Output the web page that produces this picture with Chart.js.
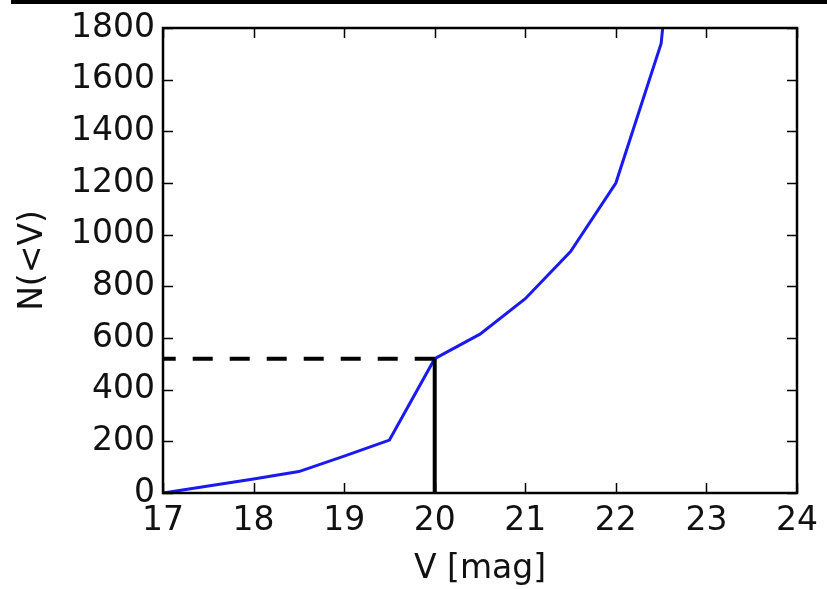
<!DOCTYPE html>
<html>
<head>
<meta charset="utf-8">
<script src="https://cdn.jsdelivr.net/npm/chart.js@4"></script>
<style>
  html, body { margin: 0; padding: 0; background: #fff; }
  #wrap { position: relative; width: 827px; height: 589px; }
  #topbar { position: absolute; left: 11px; top: 0; width: 816px; height: 4px; background: #000; }
  canvas { display: block; }
</style>
</head>
<body>
<div id="wrap">
  <canvas id="c" width="827" height="589"></canvas>
  <div id="topbar"></div>
</div>
<script>
// Data
const magnitudes = [17, 17.5, 18, 18.5, 19, 19.5, 20, 20.5, 21, 21.5, 22, 22.5, 23];
const counts     = [0, 27, 54, 83, 143, 205, 520, 615, 752, 935, 1200, 1740, 3500];
const markerMag = 20;
const markerCount = 520;
const xTicks = [17, 18, 19, 20, 21, 22, 23, 24];
const yTicks = [0, 200, 400, 600, 800, 1000, 1200, 1400, 1600, 1800];

const FONT = "'DejaVu Sans', sans-serif";
const TICK_SIZE = 33;

const curve = magnitudes.map((m, i) => ({ x: m, y: counts[i] }));
const hLine = [{ x: markerMag, y: markerCount }, { x: xTicks[0], y: markerCount }];
const vLine = [{ x: markerMag, y: 0 }, { x: markerMag, y: markerCount }];

const frame = {
  id: 'frame',
  afterDatasetsDraw(chart) {
    const { ctx, chartArea: a, scales } = chart;
    ctx.save();
    ctx.strokeStyle = '#000';
    ctx.lineWidth = 1.5;
    const tl = 10;
    ctx.beginPath();
    scales.x.ticks.forEach(t => {
      const px = Math.round(scales.x.getPixelForValue(t.value)) + 0.5;
      ctx.moveTo(px, a.bottom); ctx.lineTo(px, a.bottom - tl);
      ctx.moveTo(px, a.top); ctx.lineTo(px, a.top + tl);
    });
    scales.y.ticks.forEach(t => {
      const py = Math.round(scales.y.getPixelForValue(t.value)) + 0.5;
      ctx.moveTo(a.left, py); ctx.lineTo(a.left + tl, py);
      ctx.moveTo(a.right, py); ctx.lineTo(a.right - tl, py);
    });
    ctx.stroke();
    ctx.lineWidth = 2.5;
    ctx.strokeRect(a.left, a.top, a.right - a.left, a.bottom - a.top);
    ctx.restore();
  }
};

new Chart(document.getElementById('c'), {
  type: 'line',
  data: {
    datasets: [
      { data: curve, borderColor: '#1a1aee', borderWidth: 3, pointRadius: 0, tension: 0, order: 3 },
      { data: hLine, borderColor: '#000', borderWidth: 4, borderDash: [20, 17], pointRadius: 0, order: 1 },
      { data: vLine, borderColor: '#000', borderWidth: 4, pointRadius: 0, order: 2 }
    ]
  },
  options: {
    responsive: false,
    animation: false,
    events: [],
    layout: { padding: { top: 28, right: 29, left: 0, bottom: 0 } },
    plugins: { legend: { display: false }, tooltip: { enabled: false } },
    scales: {
      x: {
        type: 'linear', min: 17, max: 24,
        afterBuildTicks: s => { s.ticks = xTicks.map(v => ({ value: v })); },
        afterFit: s => { s.height = 96; },
        grid: { display: false, drawTicks: false },
        border: { display: false },
        ticks: { color: '#111', font: { family: FONT, size: TICK_SIZE }, padding: 9, maxRotation: 0, autoSkip: false, callback: v => String(v) },
        title: { display: true, text: 'V [mag]', color: '#111', font: { family: FONT, size: TICK_SIZE }, padding: { top: 0, bottom: 0 } }
      },
      y: {
        type: 'linear', min: 0, max: 1800,
        afterBuildTicks: s => { s.ticks = yTicks.map(v => ({ value: v })); },
        afterFit: s => { s.width = 163; },
        grid: { display: false, drawTicks: false },
        border: { display: false },
        ticks: { color: '#111', font: { family: FONT, size: TICK_SIZE }, padding: 8, autoSkip: false, callback: v => String(v) },
        title: { display: true, text: 'N(<V)', color: '#111', font: { family: FONT, size: TICK_SIZE }, padding: { top: 14, bottom: 0 } }
      }
    }
  },
  plugins: [frame]
});
</script>
</body>
</html>
